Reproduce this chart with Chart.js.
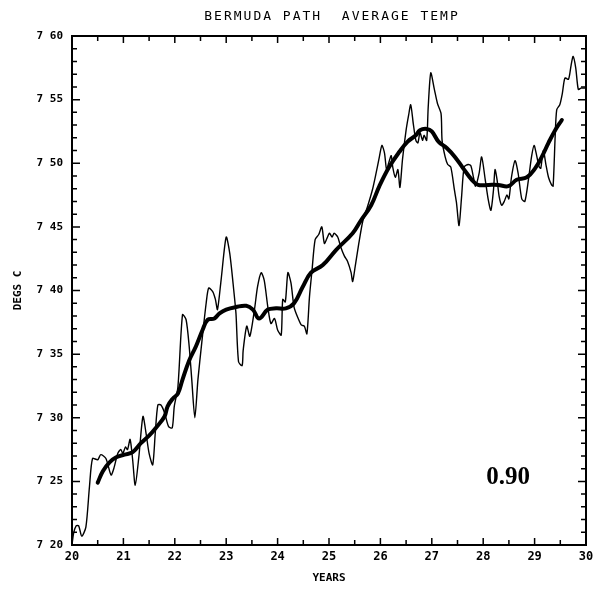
<!DOCTYPE html>
<html>
<head>
<meta charset="utf-8">
<script src="https://cdn.jsdelivr.net/npm/chart.js@4/dist/chart.umd.min.js"></script>
<style>
  html, body { margin: 0; padding: 0; background: #fff; }
  canvas { display: block; }
</style>
</head>
<body>
<canvas id="chart" width="593" height="592"></canvas>
<script>
// raw series (thin line)
const thinYears = [20.00, 20.03, 20.08, 20.13, 20.19, 20.27, 20.34, 20.40, 20.50, 20.56, 20.66, 20.76, 20.82, 20.89, 20.95, 20.99,
  21.04, 21.08, 21.13, 21.18, 21.23, 21.30, 21.38, 21.44, 21.50, 21.57, 21.62, 21.67, 21.73, 21.80, 21.88, 21.95, 21.99,
  22.06, 22.15, 22.22, 22.28, 22.33, 22.39, 22.45, 22.53, 22.61, 22.66, 22.74, 22.79, 22.83, 22.90,
  23.00, 23.07, 23.15, 23.19, 23.24, 23.31, 23.33, 23.40, 23.46, 23.55, 23.61, 23.68, 23.74, 23.81, 23.87, 23.94,
  24.00, 24.07, 24.10, 24.15, 24.20, 24.26, 24.32, 24.39, 24.46, 24.52, 24.57, 24.62, 24.67, 24.73, 24.80, 24.86, 24.91, 24.96,
  25.01, 25.06, 25.10, 25.17, 25.23, 25.30, 25.36, 25.43, 25.46, 25.51, 25.58, 25.66, 25.75, 25.85, 25.91, 25.98,
  26.03, 26.08, 26.12, 26.16, 26.21, 26.24, 26.29, 26.34, 26.38, 26.43, 26.50, 26.55, 26.59, 26.64, 26.69, 26.73, 26.77, 26.82, 26.85, 26.90, 26.93, 26.98,
  27.05, 27.11, 27.18, 27.20, 27.26, 27.31, 27.37, 27.44, 27.48, 27.53, 27.58, 27.63, 27.71, 27.76, 27.81, 27.85, 27.92, 27.97,
  28.04, 28.10, 28.15, 28.20, 28.23, 28.27, 28.31, 28.36, 28.41, 28.46, 28.50, 28.55, 28.62, 28.68, 28.75, 28.81, 28.88, 28.94, 28.99,
  29.04, 29.09, 29.12, 29.17, 29.22, 29.27, 29.33, 29.36, 29.40, 29.43, 29.49, 29.54, 29.59, 29.66, 29.71, 29.75, 29.80, 29.85, 29.90, 29.95, 29.98];
const thinTemps = [7.200, 7.209, 7.215, 7.215, 7.207, 7.214, 7.246, 7.268, 7.267, 7.271, 7.268, 7.255, 7.261, 7.272, 7.275, 7.272,
  7.277, 7.275, 7.283, 7.267, 7.247, 7.269, 7.301, 7.288, 7.272, 7.263, 7.288, 7.310, 7.310, 7.304, 7.293, 7.292, 7.309,
  7.324, 7.381, 7.377, 7.356, 7.330, 7.300, 7.330, 7.361, 7.390, 7.402, 7.399, 7.393, 7.385, 7.408,
  7.442, 7.429, 7.399, 7.382, 7.344, 7.341, 7.353, 7.372, 7.364, 7.385, 7.403, 7.414, 7.408, 7.387, 7.374, 7.378,
  7.369, 7.365, 7.393, 7.391, 7.414, 7.406, 7.387, 7.379, 7.373, 7.372, 7.366, 7.395, 7.416, 7.440, 7.444, 7.450, 7.437, 7.441,
  7.445, 7.442, 7.445, 7.442, 7.434, 7.427, 7.423, 7.414, 7.407, 7.419, 7.437, 7.455, 7.466, 7.480, 7.491, 7.505,
  7.514, 7.508, 7.495, 7.500, 7.506, 7.497, 7.489, 7.495, 7.481, 7.503, 7.526, 7.538, 7.546, 7.531, 7.518, 7.516, 7.524, 7.518, 7.522, 7.518, 7.544, 7.571,
  7.558, 7.547, 7.539, 7.518, 7.505, 7.499, 7.497, 7.479, 7.469, 7.451, 7.474, 7.497, 7.499, 7.498, 7.489, 7.482, 7.492, 7.505,
  7.487, 7.471, 7.463, 7.479, 7.495, 7.487, 7.474, 7.467, 7.470, 7.475, 7.472, 7.489, 7.502, 7.492, 7.472, 7.470, 7.487, 7.505, 7.514,
  7.506, 7.497, 7.496, 7.510, 7.499, 7.489, 7.483, 7.482, 7.521, 7.542, 7.546, 7.555, 7.567, 7.566, 7.577, 7.584, 7.575, 7.558, 7.559, 7.559, 7.559];

// smoothed series (thick line)
const smoothYears = [20.50, 20.60, 20.73, 20.86, 21.02, 21.18, 21.34, 21.50, 21.63, 21.80, 21.86, 21.96, 22.06, 22.15, 22.28, 22.41,
  22.54, 22.64, 22.77, 22.87, 23.00, 23.19, 23.39, 23.52, 23.64, 23.81, 23.97, 24.16, 24.32, 24.49, 24.65, 24.88,
  25.14, 25.46, 25.62, 25.82, 25.98, 26.17, 26.37, 26.53, 26.69, 26.77, 26.90, 27.00, 27.13, 27.29, 27.45, 27.61,
  27.78, 27.90, 28.10, 28.29, 28.49, 28.65, 28.85, 29.01, 29.14, 29.27, 29.40, 29.53];
const smoothTemps = [7.249, 7.258, 7.265, 7.269, 7.271, 7.273, 7.280, 7.286, 7.292, 7.301, 7.309, 7.315, 7.319, 7.330, 7.345, 7.356,
  7.369, 7.377, 7.378, 7.382, 7.385, 7.387, 7.388, 7.385, 7.378, 7.385, 7.386, 7.386, 7.390, 7.403, 7.414, 7.420,
  7.432, 7.445, 7.455, 7.467, 7.482, 7.497, 7.509, 7.517, 7.522, 7.526, 7.527, 7.525, 7.517, 7.512, 7.505, 7.496,
  7.487, 7.483, 7.483, 7.483, 7.482, 7.487, 7.489, 7.496, 7.505, 7.516, 7.526, 7.534];

const xTickValues = [20, 21, 22, 23, 24, 25, 26, 27, 28, 29, 30];
const xTickLabels = ["20", "21", "22", "23", "24", "25", "26", "27", "28", "29", "30"];
const yTickValues = [7.20, 7.25, 7.30, 7.35, 7.40, 7.45, 7.50, 7.55, 7.60];
const yTickLabels = ["7 20", "7 25", "7 30", "7 35", "7 40", "7 45", "7 50", "7 55", "7 60"];

const chartTitle = "BERMUDA PATH  AVERAGE TEMP";
const corrLabel = "0.90";

function toPoints(xs, ys) {
    return xs.map((x, i) => ({ x: x, y: ys[i] }));
}

// frame, inward ticks, title and the 0.90 mark
const framePlugin = {
    id: "frame",
    afterDraw(chart) {
        const ctx = chart.ctx;
        const a = chart.chartArea;
        const xs = chart.scales.x;
        const ys = chart.scales.y;
        ctx.save();
        ctx.strokeStyle = "#000";
        ctx.lineWidth = 2;
        ctx.strokeRect(a.left, a.top, a.right - a.left, a.bottom - a.top);

        ctx.lineWidth = 1.5;
        ctx.beginPath();
        for (let i = 0; i <= 40; i++) {
            let py = ys.getPixelForValue(7.2 + i * 0.01);
            let major = i % 5 === 0;
            ctx.moveTo(a.left, py);
            ctx.lineTo(a.left + (major ? 8 : 5), py);
            ctx.moveTo(a.right, py);
            ctx.lineTo(a.right - (major ? 8 : 5), py);
        }
        for (let i = 0; i <= 20; i++) {
            let px = xs.getPixelForValue(20 + i * 0.5);
            let major = i % 2 === 0;
            ctx.moveTo(px, a.bottom);
            ctx.lineTo(px, a.bottom - (major ? 7 : 5));
            ctx.moveTo(px, a.top);
            ctx.lineTo(px, a.top + (major ? 7 : 5));
        }
        ctx.stroke();

        ctx.fillStyle = "#000";
        ctx.font = "13px 'DejaVu Sans Mono'";
        ctx.letterSpacing = "2px";
        ctx.textAlign = "center";
        ctx.textBaseline = "alphabetic";
        ctx.fillText(chartTitle, (a.left + a.right) / 2 + 3, 20);
        ctx.letterSpacing = "0px";

        ctx.font = "bold 25px 'Liberation Serif'";
        ctx.textBaseline = "middle";
        ctx.fillText(corrLabel, 508, 478);
        ctx.restore();
    }
};

const ctx = document.getElementById("chart");
new Chart(ctx, {
    type: "line",
    data: {
        datasets: [
            {
                data: toPoints(thinYears, thinTemps),
                borderColor: "#000",
                borderWidth: 1.4,
                pointRadius: 0,
                tension: 0.25,
                fill: false
            },
            {
                data: toPoints(smoothYears, smoothTemps),
                borderColor: "#000",
                borderWidth: 4,
                pointRadius: 0,
                tension: 0.4,
                borderCapStyle: "round",
                fill: false
            }
        ]
    },
    options: {
        responsive: false,
        animation: false,
        layout: { padding: { top: 36, right: 7, left: 0, bottom: 0 } },
        plugins: { legend: { display: false }, tooltip: { enabled: false } },
        scales: {
            x: {
                type: "linear",
                min: 20,
                max: 30,
                afterBuildTicks: (scale) => { scale.ticks = xTickValues.map(v => ({ value: v })); },
                afterFit: (scale) => {
                    scale.height = 47;
                    scale.paddingLeft = 0;
                    scale.paddingRight = 0;
                },
                grid: { display: false, drawTicks: false },
                border: { display: false },
                ticks: {
                    autoSkip: false,
                    maxRotation: 0,
                    padding: 5,
                    color: "#000",
                    font: { family: "DejaVu Sans Mono", size: 12, weight: "bold" },
                    callback: (value, index) => xTickLabels[index]
                },
                title: {
                    display: true,
                    text: "YEARS",
                    color: "#000",
                    padding: { top: 0, bottom: 7 },
                    font: { family: "DejaVu Sans Mono", size: 11, weight: "bold" }
                }
            },
            y: {
                type: "linear",
                min: 7.2,
                max: 7.6,
                afterBuildTicks: (scale) => { scale.ticks = yTickValues.map(v => ({ value: v })); },
                afterFit: (scale) => {
                    scale.width = 72;
                    scale.paddingTop = 0;
                    scale.paddingBottom = 0;
                },
                grid: { display: false, drawTicks: false },
                border: { display: false },
                ticks: {
                    autoSkip: false,
                    padding: 9,
                    color: "#000",
                    font: { family: "DejaVu Sans Mono", size: 11, weight: "bold" },
                    callback: (value, index) => yTickLabels[index]
                },
                title: {
                    display: true,
                    text: "DEGS C",
                    color: "#000",
                    padding: { top: 12, bottom: 0 },
                    font: { family: "DejaVu Sans Mono", size: 11, weight: "bold" }
                }
            }
        }
    },
    plugins: [framePlugin]
});
</script>
</body>
</html>
